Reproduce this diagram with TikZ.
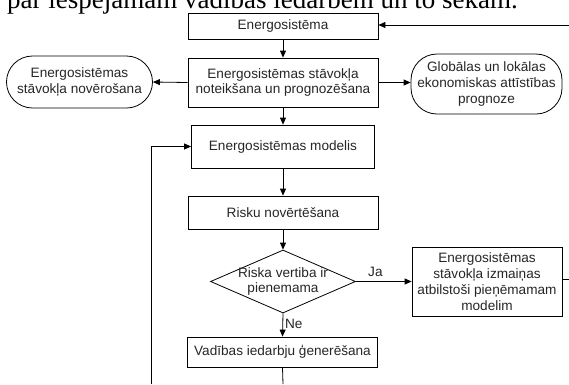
\documentclass[tikz,border=0pt]{standalone}
\usepackage{fontspec}
\setmainfont{Liberation Sans}
\newfontfamily\headingfont{Liberation Serif}
\usetikzlibrary{shapes.geometric,arrows.meta}

\begin{document}
\begin{tikzpicture}[x=1pt,y=-1pt,
  every node/.style={font=\fontsize{13.6}{15.8}\selectfont, align=center, inner sep=0pt, text=black!85},
  procbox/.style={draw=black, line width=0.8pt, minimum width=190pt},
  terminal/.style={draw=black, line width=0.8pt, rounded corners=26pt, minimum width=148pt},
  decision/.style={draw=black, line width=0.8pt, diamond, minimum width=145pt, minimum height=63pt},
  link/.style={draw=black, line width=0.8pt, -{Triangle[length=7pt,width=6pt]}},
  plain/.style={draw=black, line width=0.8pt},
  branch/.style={font=\fontsize{13.6}{15.8}\selectfont}
]
\useasboundingbox (0,0) rectangle (569,384);
\clip (0,0) rectangle (569,384);

% running text line of the page, cut by the top edge
\node[font=\headingfont\fontsize{27}{30}\selectfont, anchor=base west, text=black] (heading) at (7,8.5)
  {par iespējamām vadības iedarbēm un to sekām.};

% main column
\node[procbox, minimum height=26pt] (sys) at (283,26) {Energosistēma};
\node[procbox, minimum height=49pt] (state) at (283,82.5) {Energosistēmas stāvokļa\\noteikšana un prognozēšana};
\node[terminal, minimum width=146pt, minimum height=52pt] (obs) at (79.5,82) {Energosistēmas\\stāvokļa novērošana};
\node[terminal, minimum width=151pt, minimum height=60pt] (fcast) at (486.5,84) {Globālas un lokālas\\ekonomiskas attīstības\\prognoze};
\node[procbox, minimum width=183pt, minimum height=43pt] (model) at (283,146.5) {Energosistēmas modelis};
\node[procbox, minimum height=33pt] (risk) at (283,212.5) {Risku novērtēšana};
\node[decision] (dec) at (283,281.5) {};
\node[align=center] (dectext) at (283,281.5) {Riska vertiba ir\\pienemama};
\node[procbox, minimum width=150pt, minimum height=69pt] (change) at (487,281.5)
  {Energosistēmas\\stāvokļa izmaiņas\\atbilstoši pieņēmamam\\modelim};
\node[procbox, minimum height=30pt] (act) at (282.5,352) {Vadības iedarbju ģenerēšana};

% free ends of the feedback loops, outside the page
\coordinate (topin) at (569,25);
\coordinate (rightout) at (569,279);
\coordinate (actout) at (283,384);
\coordinate (loopin) at (151,384);
\coordinate (loopcorner) at (151,146.5);

% connectors
\draw[link] (topin) -- (sys.east |- topin);
\draw[link] (sys.south) -- (state.north);
\draw[link] (state.west) -- (obs.east);
\draw[link] (state.east) -- (fcast.west |- state.east);
\draw[link] (state.south) -- (model.north);
\draw[link] (model.south) -- (risk.north);
\draw[link] (risk.south) -- (dec.north);
\draw[link] (dec.east) -- node[branch, above=4pt, pos=0.35] (yes) {Ja} (change.west);
\draw[link] (dec.south) -- node[branch, right=2pt, pos=0.45] (no) {Ne} (act.north);
\draw[plain] (change.east |- rightout) -- (rightout);
\draw[plain] (act.south) -- (actout);
\draw[link] (loopin) -- (loopcorner) -- (model.west);
\end{tikzpicture}
\end{document}
